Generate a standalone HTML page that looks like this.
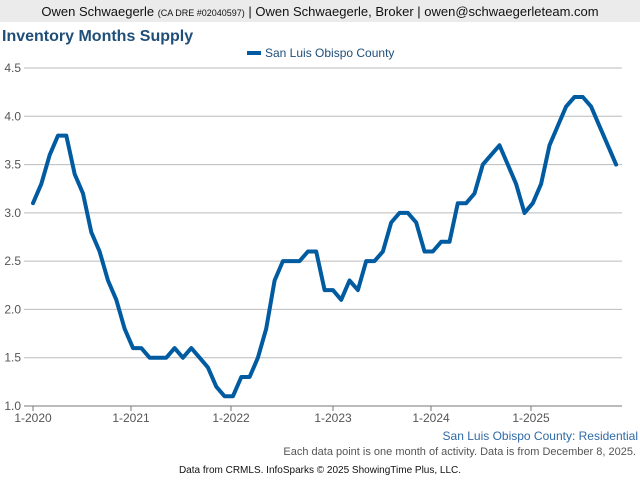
<!DOCTYPE html>
<html><head><meta charset="utf-8"><style>
body{margin:0;width:640px;height:480px;background:#fff;overflow:hidden;font-family:"Liberation Sans",sans-serif}
</style></head><body>
<svg width="640" height="480" xmlns="http://www.w3.org/2000/svg" font-family="Liberation Sans, sans-serif">
<rect x="0" y="0" width="640" height="22" fill="#ebebeb"/>
<text x="320" y="16" text-anchor="middle" font-size="13" fill="#111">Owen Schwaegerle <tspan font-size="9">(CA DRE #02040597)</tspan> | Owen Schwaegerle, Broker | owen@schwaegerleteam.com</text>
<text x="2" y="41" font-size="16" font-weight="bold" fill="#1f4e79">Inventory Months Supply</text>
<rect x="247" y="51" width="14" height="4" fill="#005ba1"/>
<text x="265" y="57" font-size="12" fill="#1f4e79">San Luis Obispo County</text>
<g id="grid" stroke="#bbb" stroke-width="1"></g>
<g id="ylab" font-size="12" fill="#555" text-anchor="end"></g>
<line x1="24" y1="406" x2="622" y2="406" stroke="#777"/>
<g font-size="12" fill="#555" text-anchor="middle">
<text x="33" y="422">1-2020</text><text x="131" y="422">1-2021</text><text x="231" y="422">1-2022</text><text x="333" y="422">1-2023</text><text x="431" y="422">1-2024</text><text x="531" y="422">1-2025</text>
</g>
<g stroke="#777"><line x1="33" y1="406" x2="33" y2="411"/><line x1="131" y1="406" x2="131" y2="411"/><line x1="231" y1="406" x2="231" y2="411"/><line x1="333" y1="406" x2="333" y2="411"/><line x1="431" y1="406" x2="431" y2="411"/><line x1="531" y1="406" x2="531" y2="411"/></g>
<polyline id="ln" fill="none" stroke="#005ba1" stroke-width="4" stroke-linejoin="round" stroke-linecap="round"/>
<text x="638" y="440" text-anchor="end" font-size="12" fill="#2f6aa5">San Luis Obispo County: Residential</text>
<text x="636" y="455" text-anchor="end" font-size="11" fill="#555">Each data point is one month of activity. Data is from December 8, 2025.</text>
<text x="320" y="473" text-anchor="middle" font-size="10" fill="#111">Data from CRMLS. InfoSparks © 2025 ShowingTime Plus, LLC.</text>
</svg>
<script>
var v=[3.1,3.3,3.6,3.8,3.8,3.4,3.2,2.8,2.6,2.3,2.1,1.8,
1.6,1.6,1.5,1.5,1.5,1.6,1.5,1.6,1.5,1.4,1.2,1.1,
1.1,1.3,1.3,1.5,1.8,2.3,2.5,2.5,2.5,2.6,2.6,2.2,
2.2,2.1,2.3,2.2,2.5,2.5,2.6,2.9,3.0,3.0,2.9,2.6,
2.6,2.7,2.7,3.1,3.1,3.2,3.5,3.6,3.7,3.5,3.3,3.0,
3.1,3.3,3.7,3.9,4.1,4.2,4.2,4.1,3.9,3.7,3.5];
var ns="http://www.w3.org/2000/svg";
function Y(t){return 406-(t-1)*96.57;}
var p=v.map(function(t,i){return (33+i*8.33).toFixed(1)+","+Y(t).toFixed(1)}).join(" ");
document.getElementById("ln").setAttribute("points",p);
var g=document.getElementById("grid"),yl=document.getElementById("ylab");
for(var k=1.5;k<=4.51;k+=0.5){var l=document.createElementNS(ns,"line");l.setAttribute("x1",24);l.setAttribute("x2",622);l.setAttribute("y1",Y(k));l.setAttribute("y2",Y(k));g.appendChild(l);}
for(var k=1.0;k<=4.51;k+=0.5){var t=document.createElementNS(ns,"text");t.setAttribute("x",21);t.setAttribute("y",Y(k)+4);t.textContent=k.toFixed(1);yl.appendChild(t);}
</script>
</body></html>
